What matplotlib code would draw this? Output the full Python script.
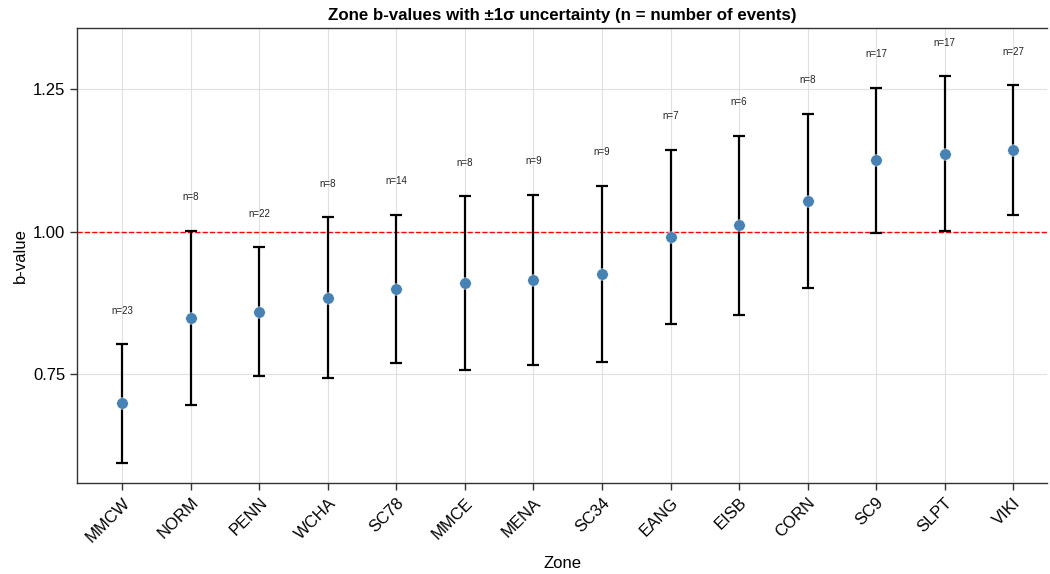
import matplotlib
matplotlib.use("Agg")
import matplotlib.pyplot as plt
import numpy as np

plt.rcParams['font.family'] = ['Liberation Sans', 'DejaVu Sans']

zones = ["MMCW", "NORM", "PENN", "WCHA", "SC78", "MMCE", "MENA",
         "SC34", "EANG", "EISB", "CORN", "SC9", "SLPT", "VIKI"]
b_values = [0.699, 0.849, 0.860, 0.884, 0.900, 0.910, 0.916,
            0.926, 0.991, 1.011, 1.054, 1.125, 1.137, 1.143]
b_sigma = [0.104, 0.153, 0.113, 0.141, 0.130, 0.152, 0.149,
           0.155, 0.153, 0.157, 0.153, 0.127, 0.136, 0.114]
n_events = [23, 8, 22, 8, 14, 8, 9, 9, 7, 6, 8, 17, 17, 27]

fig = plt.figure(figsize=(10.5, 5.74), dpi=100)
ax = fig.add_axes([0.0735, 0.158, 0.924, 0.793])

x = np.arange(len(zones))
ax.errorbar(x, b_values, yerr=b_sigma, fmt='none', ecolor='black',
            elinewidth=1.6, capsize=4, capthick=1.6, zorder=2)
ax.scatter(x, b_values, s=68, color='steelblue', edgecolor='white',
           linewidth=0.3, zorder=3)
ax.axhline(1.0, color='red', linestyle='--', linewidth=1.0, zorder=1)

for xi, b, s, n in zip(x, b_values, b_sigma, n_events):
    ax.text(xi, b + s + 0.05, f"n={n}", ha='center', va='bottom',
            fontsize=7, color='#222222')

ax.set_xticks(x)
ax.set_xticklabels(zones, rotation=45, ha='right', rotation_mode='anchor',
                   fontsize=12)
ax.set_yticks([0.75, 1.00, 1.25])
ax.set_yticklabels(["0.75", "1.00", "1.25"], fontsize=12)
ax.set_xlim(-0.66, 13.5)
ax.set_ylim(0.559, 1.357)
ax.grid(True, color='#e0e0e0', linewidth=0.8)
ax.set_axisbelow(True)

ax.spines['right'].set_visible(False)
for side in ('left', 'bottom', 'top'):
    ax.spines[side].set_color('#333333')
    ax.spines[side].set_linewidth(1.0)
ax.tick_params(axis='both', length=5, width=1, color='#333333')

ax.set_xlabel("Zone", fontsize=12, labelpad=8)
ax.set_ylabel("b-value", fontsize=12)
ax.set_title("Zone b-values with \u00b11\u03c3 uncertainty (n = number of events)",
             fontsize=12.2, fontweight='bold', pad=6)

fig.savefig("out.png", dpi=100)
